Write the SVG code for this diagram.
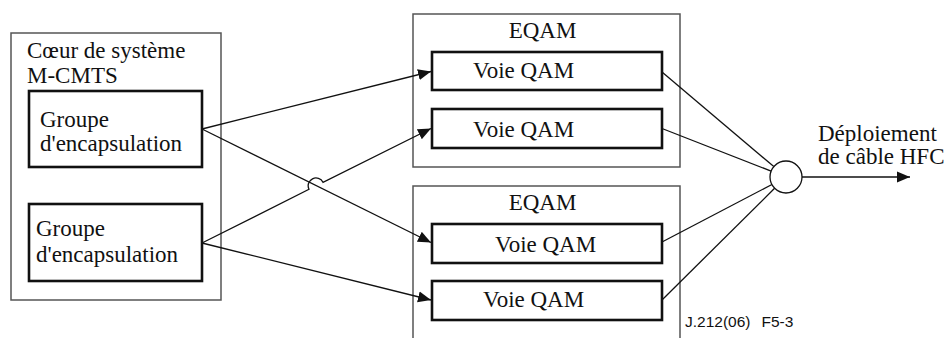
<svg xmlns="http://www.w3.org/2000/svg" width="950" height="338" viewBox="0 0 950 338">
<defs>
<style>
.outer{fill:#fff;stroke:#555;stroke-width:1.5}
.box{fill:#fff;stroke:#111;stroke-width:2.6}
.t{font-family:"Liberation Serif","Times New Roman",serif;font-size:23px;fill:#111}
.lbl{font-family:"Liberation Sans",Arial,sans-serif;font-size:15.5px;fill:#111}
.c{fill:none;stroke:#111;stroke-width:1.3}
</style>
<marker id="ah" markerUnits="userSpaceOnUse" markerWidth="14" markerHeight="12" refX="13" refY="6" orient="auto">
<path d="M0,0.5 L13,6 L0,11.5 Z" fill="#111"/>
</marker>
</defs>
<g id="core">
<rect class="outer" x="11" y="33" width="210" height="267"/>
<text class="t" x="27" y="58">Cœur de système</text>
<text class="t" x="27" y="83">M-CMTS</text>
</g>
<g id="grp1">
<rect class="box" x="29" y="91" width="173" height="76"/>
<text class="t" x="40" y="127">Groupe</text>
<text class="t" x="40" y="151">d'encapsulation</text>
</g>
<g id="grp2">
<rect class="box" x="29" y="204" width="173" height="77"/>
<text class="t" x="36" y="236">Groupe</text>
<text class="t" x="36" y="262">d'encapsulation</text>
</g>
<g id="eqam1">
<rect class="outer" x="413" y="14" width="267" height="153"/>
<text class="t" x="542.5" y="38" text-anchor="middle">EQAM</text>
</g>
<g id="eqam2">
<rect class="outer" x="413" y="186" width="267" height="160"/>
<text class="t" x="542.5" y="210" text-anchor="middle">EQAM</text>
</g>
<g id="voie1">
<rect class="box" x="432" y="52" width="230" height="38"/>
<text class="t" x="473" y="78">Voie QAM</text>
</g>
<g id="voie2">
<rect class="box" x="432" y="109" width="230" height="39"/>
<text class="t" x="473" y="137">Voie QAM</text>
</g>
<g id="voie3">
<rect class="box" x="432" y="224" width="230" height="39"/>
<text class="t" x="495" y="252">Voie QAM</text>
</g>
<g id="voie4">
<rect class="box" x="432" y="281" width="230" height="39"/>
<text class="t" x="483" y="307">Voie QAM</text>
</g>
<g id="combiner">
<circle cx="786" cy="177" r="16" fill="#fff" stroke="#111" stroke-width="1.3"/>
</g>
<g id="hfc">
<text class="t" x="818" y="141">Déploiement</text>
<text class="t" x="818" y="164">de câble HFC</text>
</g>
<g id="connectors">
<path class="c" d="M202,129 L431,71.5" marker-end="url(#ah)"/>
<path class="c" d="M202,129 L431,242.5" marker-end="url(#ah)"/>
<path class="c" d="M202,243 L309,189.3 A7.8,7.8 0 0 1 323,182.3 L431,128.5" marker-end="url(#ah)"/>
<path class="c" d="M202,243 L431,300" marker-end="url(#ah)"/>
<path class="c" d="M662,72 L773.8,166.6"/>
<path class="c" d="M662,128.5 L771.1,171.1"/>
<path class="c" d="M662,242 L771.9,184.5"/>
<path class="c" d="M662,300 L774.6,188.3"/>
<path class="c" d="M802,177 L910,177" marker-end="url(#ah)"/>
</g>
<text class="lbl" x="685" y="327">J.212(06)<tspan x="761.5">F5-3</tspan></text>
</svg>
